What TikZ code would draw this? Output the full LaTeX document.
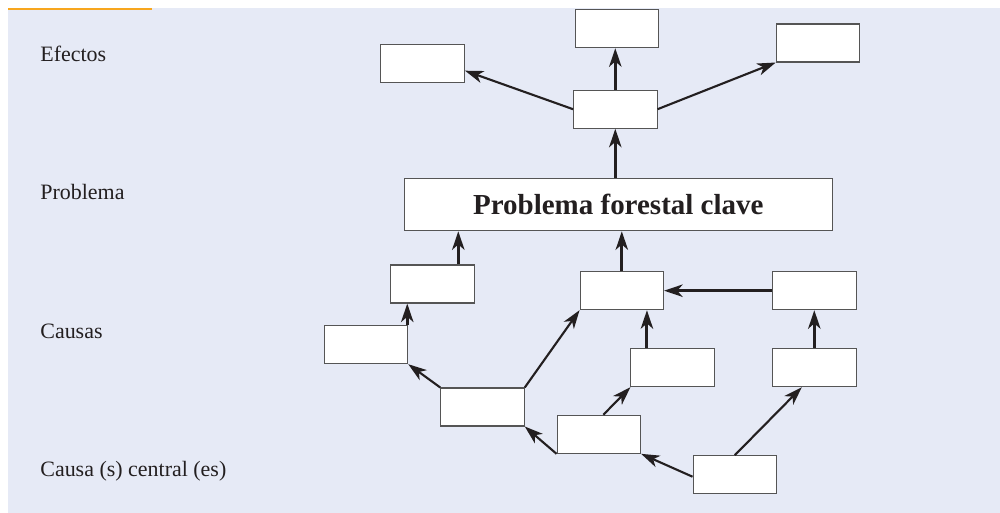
\documentclass[tikz,border=0pt]{standalone}
\usepackage{fontspec}
\setmainfont{Liberation Serif}
\usetikzlibrary{arrows.meta}
\definecolor{bg}{RGB}{230,234,246}
\definecolor{orng}{RGB}{247,166,30}
\definecolor{ink}{RGB}{35,31,32}
\definecolor{boxline}{RGB}{85,85,85}
\begin{document}
\begin{tikzpicture}[x=0.02cm,y=-0.02cm,
  box/.style={draw=boxline, fill=white, line width=0.6pt, minimum width=1.67cm, minimum height=0.76cm, inner sep=0pt},
  conn/.style={draw=ink, line width=1.2pt, -{Stealth[length=10.5pt,width=7pt,inset=3pt]}},
  connv/.style={conn, line width=1.7pt},
  lab/.style={anchor=base west, text=ink, inner sep=0pt, font=\fontsize{12.5}{15}\selectfont}]
\useasboundingbox (0,0) rectangle (1000,513);
\fill[bg] (8,8) rectangle (1000,513);
\draw[orng, line width=1.2pt] (8,9) -- (152,9);

% row labels
\node[lab] (lef) at (40,61.5) {Efectos};
\node[lab] (lpr) at (40,200) {Problema};
\node[lab] (lca) at (40,338.5) {Causas};
\node[lab] (lcc) at (40,476) {Causa (s) central (es)};

% effects
\node[box] (E1) at (422.7,63.3) {};
\node[box] (E2) at (616.8,28.7) {};
\node[box] (E3) at (818,43) {};
\node[box] (E0) at (615.3,109.2) {};

% problem
\node[box, minimum width=8.56cm, minimum height=1.05cm, text=ink,
      font=\fontsize{16.5}{19}\selectfont\bfseries] (P) at (618.3,204.5) {Problema forestal clave};

% causes
\node[box] (C1) at (432.3,284) {};
\node[box] (C2) at (621.8,290.7) {};
\node[box] (C3) at (814.3,290.7) {};
\node[box] (C4) at (366,344.7) {};
\node[box] (C5) at (672.7,367.7) {};
\node[box] (C6) at (814.3,367.7) {};
\node[box] (C7) at (482.5,407) {};
\node[box] (C8) at (598.8,434.3) {};
\node[box] (C9) at (734.8,474.7) {};

% effect connectors
\draw[conn] (E0.west) -- ([yshift=-0.148cm]E1.east);
\draw[connv] (E0.north) -- (E0.north |- E2.south);
\draw[conn] (E0.east) -- (E3.south west);
\draw[connv] (E0.south |- P.north) -- (E0.south);

% cause connectors
\draw[connv] ([xshift=0.52cm]C1.north) -- ([xshift=0.52cm]C1.north |- P.south);
\draw[connv] (C2.north) -- (C2.north |- P.south);
\draw[connv] (C3.west) -- (C2.east);
\draw[connv] ([xshift=-0.02cm]C4.north east) -- ([xshift=-0.02cm]C4.north east |- C1.south);
\draw[connv] ([xshift=0.33cm]C5.north west) -- ([xshift=0.33cm]C5.north west |- C2.south);
\draw[connv] (C6.north) -- (C3.south);
\draw[conn] (C7.north west) -- (C4.south east);
\draw[conn] (C7.north east) -- (C2.south west);
\draw[conn] (C8.south west) -- (C7.south east);
\draw[conn] ([xshift=0.09cm]C8.north) -- (C5.south west);
\draw[conn] ([yshift=-0.04cm]C9.west) -- (C8.south east);
\draw[conn] (C9.north) -- ([xshift=-0.25cm]C6.south);
\end{tikzpicture}
\end{document}
